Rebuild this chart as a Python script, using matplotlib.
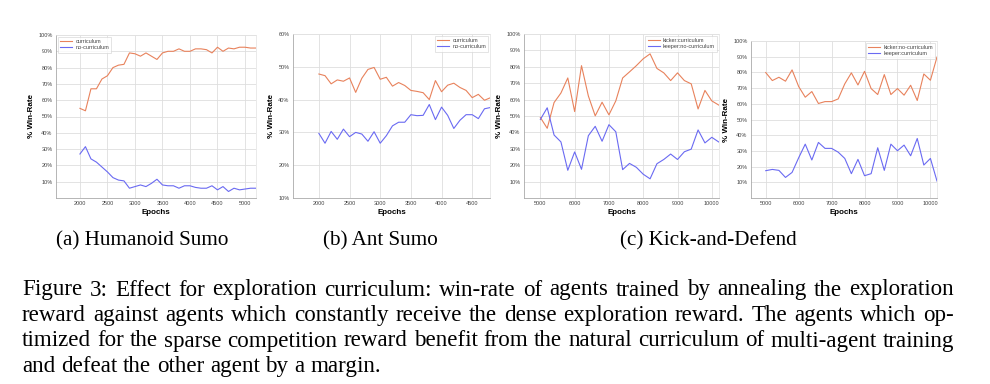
import matplotlib
matplotlib.use("Agg")
import matplotlib.pyplot as plt
from matplotlib.ticker import FuncFormatter, FixedLocator

W, H = 990, 384

# ---------------- data ----------------
hs_epochs = list(range(2000, 5300, 100))
hs_curriculum = [55, 53.5, 67, 67, 73, 75, 80, 81.5, 82, 89, 88.5, 87, 89, 87, 85, 89,
                 90, 90, 91.5, 90, 90, 91.5, 91.5, 91, 89, 92.5, 90, 92, 91.5, 92.5,
                 92.5, 92, 92]
hs_no_curriculum = [27, 31.5, 24, 22, 19, 16, 12.5, 11, 10.5, 6, 7, 8, 7, 9, 11.5, 8,
                    7.5, 7.5, 6, 7.5, 7.5, 6.5, 6, 6, 7.5, 5, 7, 4, 6, 5, 5.5, 6, 6]

ant_epochs = list(range(2000, 4900, 100))
ant_curriculum = [47.8, 47.3, 44.8, 46, 45.6, 46.6, 42.2, 46.5, 49.2, 49.8, 46.2, 46.8,
                  44.1, 45.2, 44.3, 42.8, 42.5, 42.1, 40, 45.8, 42.4, 44.4, 45, 43.7,
                  42.8, 40.6, 41.6, 39.8, 40.6]
ant_no_curriculum = [29.7, 26.7, 30.3, 27.9, 31, 28.7, 30, 29.5, 27.3, 30.2, 26.7, 29,
                     32, 33.1, 33.1, 35.4, 35.1, 35.2, 38.5, 33.9, 37.7, 35.2, 31.2,
                     33.7, 35.4, 35.4, 34.2, 37.2, 37.6]

kd_epochs = list(range(5000, 10400, 200))
kd_kicker_curr = [49.1, 42.5, 58.2, 64, 73.2, 52.7, 80.7, 62.2, 50.1, 58.4, 50.7, 59.2,
                  73.2, 76.9, 80.7, 84.9, 87.9, 79, 76.3, 71.6, 76.3, 71.6, 69.6, 54.3,
                  65.6, 59.2, 56.7]
kd_keeper_nocurr = [47.9, 55, 38.4, 34.2, 16.9, 28.1, 17.5, 38, 43.7, 34.6, 44.7, 40.4,
                    17.3, 21.1, 18.7, 14.5, 11.7, 20.9, 23.5, 26.8, 23.5, 28.2, 29.8,
                    41.5, 33.6, 37, 34.2]
kd_kicker_nocurr = [79.9, 74.8, 76.9, 74.4, 81.6, 71, 64.2, 67.8, 60.2, 61.4, 61.4, 63.1,
                    72.7, 79.7, 72, 80.7, 69.7, 65.9, 78.6, 65.9, 69.7, 65.5, 71.8, 62.1,
                    79, 75, 89.8]
kd_keeper_curr = [17.4, 18.2, 17.6, 13.1, 16.3, 25.6, 34.3, 24.2, 35.4, 31.6, 31.6, 29.2,
                  25.2, 15.5, 24.6, 14.2, 15.5, 32, 17.6, 34.3, 30.1, 33.7, 26.9, 37.9,
                  21, 25.2, 10.8]

yticks_full = [10, 20, 30, 40, 50, 60, 70, 80, 90, 100]
yticks_ant = [10, 20, 30, 40, 50, 60]
xticks_hs = [2000, 2500, 3000, 3500, 4000, 4500, 5000]
xticks_ant = [2000, 2500, 3000, 3500, 4000, 4500]
xticks_kd = [5000, 6000, 7000, 8000, 9000, 10000]

subcaptions = ["(a) Humanoid Sumo", "(b) Ant Sumo", "(c) Kick-and-Defend"]
caption_lines = [
    "Figure 3: Effect for exploration curriculum: win-rate of agents trained by annealing the exploration",
    "reward against agents which constantly receive the dense exploration reward. The agents which op-",
    "timized for the sparse competition reward benefit from the natural curriculum of multi-agent training",
    "and defeat the other agent by a margin.",
]

ORANGE = "#e8825c"
BLUE = "#6a6af2"

fig = plt.figure(figsize=(W / 100, H / 100), dpi=100)
plt.rcParams["font.family"] = ["Liberation Sans", "DejaVu Sans"]


def add_axes_px(x0, y0, x1, y1):
    return fig.add_axes([x0 / W, 1 - y1 / H, (x1 - x0) / W, (y1 - y0) / H])


def style(ax, xlim, ylim, xticks, yticks):
    ax.set_xlim(*xlim)
    ax.set_ylim(*ylim)
    ax.xaxis.set_major_locator(FixedLocator(xticks))
    ax.yaxis.set_major_locator(FixedLocator(yticks))
    ax.yaxis.set_major_formatter(FuncFormatter(lambda v, p: f"{int(round(v))}%"))
    ax.grid(True, color="#dedede", linewidth=0.6)
    ax.set_axisbelow(True)
    ax.tick_params(length=0, labelsize=4, colors="#444444", pad=2.5)
    for s in ("left", "bottom"):
        ax.spines[s].set_color("#aaaaaa")
        ax.spines[s].set_linewidth(0.6)
    for s in ("top", "right"):
        ax.spines[s].set_color("#e2e2e2")
        ax.spines[s].set_linewidth(0.5)
    ax.set_xlabel("Epochs", fontsize=5.8, fontweight="bold", labelpad=2)
    ax.set_ylabel("% Win-Rate", fontsize=5.8, fontweight="bold", labelpad=2)


def legend(ax, loc):
    leg = ax.legend(loc=loc, fontsize=4, frameon=True, fancybox=False,
                    edgecolor="#d0d0d0", handlelength=2.2, borderpad=0.4,
                    labelspacing=0.25, handletextpad=0.6, borderaxespad=0.3)
    leg.get_frame().set_linewidth(0.5)
    for t in leg.get_texts():
        t.set_color("#444444")


# Panel (a)
ax1 = add_axes_px(56, 35, 256, 198)
ax1.plot(hs_epochs, hs_curriculum, color=ORANGE, lw=0.8, label="curriculum")
ax1.plot(hs_epochs, hs_no_curriculum, color=BLUE, lw=0.8, label="no-curriculum")
style(ax1, (1565, 5200), (0, 100), xticks_hs, yticks_full)
legend(ax1, "upper left")

# Panel (b)
ax2 = add_axes_px(293, 34, 490, 198)
ax2.plot(ant_epochs, ant_curriculum, color=ORANGE, lw=0.8, label="curriculum")
ax2.plot(ant_epochs, ant_no_curriculum, color=BLUE, lw=0.8, label="no-curriculum")
style(ax2, (1578, 4790), (10, 60), xticks_ant, yticks_ant)
legend(ax2, "upper right")

# Panel (c) left
ax3 = add_axes_px(524, 34, 719, 198)
ax3.plot(kd_epochs, kd_kicker_curr, color=ORANGE, lw=0.8, label="kicker:curriculum")
ax3.plot(kd_epochs, kd_keeper_nocurr, color=BLUE, lw=0.8, label="keeper:no-curriculum")
style(ax3, (4523, 10210), (0, 100), xticks_kd, yticks_full)
legend(ax3, "upper right")

# Panel (c) right
ax4 = add_axes_px(751, 41, 937, 198)
ax4.plot(kd_epochs, kd_kicker_nocurr, color=ORANGE, lw=0.8, label="kicker:no-curriculum")
ax4.plot(kd_epochs, kd_keeper_curr, color=BLUE, lw=0.8, label="keeper:curriculum")
style(ax4, (4553, 10200), (0, 100), xticks_kd, yticks_full)
legend(ax4, "upper right")

SERIF = ["Liberation Serif", "DejaVu Serif"]
CAP_FS = 16.6
SUB_FS = 15.2

# sub captions
for txt, xc in zip(subcaptions, [142, 380, 708]):
    fig.text(xc / W, 1 - 241 / H, txt, ha="center", va="center",
             fontsize=SUB_FS, family=SERIF)

# figure caption with manual justification
renderer = fig.canvas.get_renderer()
left_px, right_px = 22, 954
line_y = [290, 315.5, 341, 366.5]
sp = fig.text(0, 0, "a b", fontsize=CAP_FS, family=SERIF)
ab = fig.text(0, 0, "ab", fontsize=CAP_FS, family=SERIF)
nat_gap = sp.get_window_extent(renderer).width - ab.get_window_extent(renderer).width
sp.remove()
ab.remove()
for i, (line, yc) in enumerate(zip(caption_lines, line_y)):
    words = line.split(" ")
    objs = [fig.text(0, 1 - yc / H, w, ha="left", va="center",
                     fontsize=CAP_FS, family=SERIF) for w in words]
    widths = [o.get_window_extent(renderer).width for o in objs]
    if i < len(caption_lines) - 1:
        gap = (right_px - left_px - sum(widths)) / (len(words) - 1)
    else:
        gap = nat_gap
    x = left_px
    for o, w in zip(objs, widths):
        o.set_x(x / W)
        x += w + gap

fig.savefig("out.png", dpi=100)
